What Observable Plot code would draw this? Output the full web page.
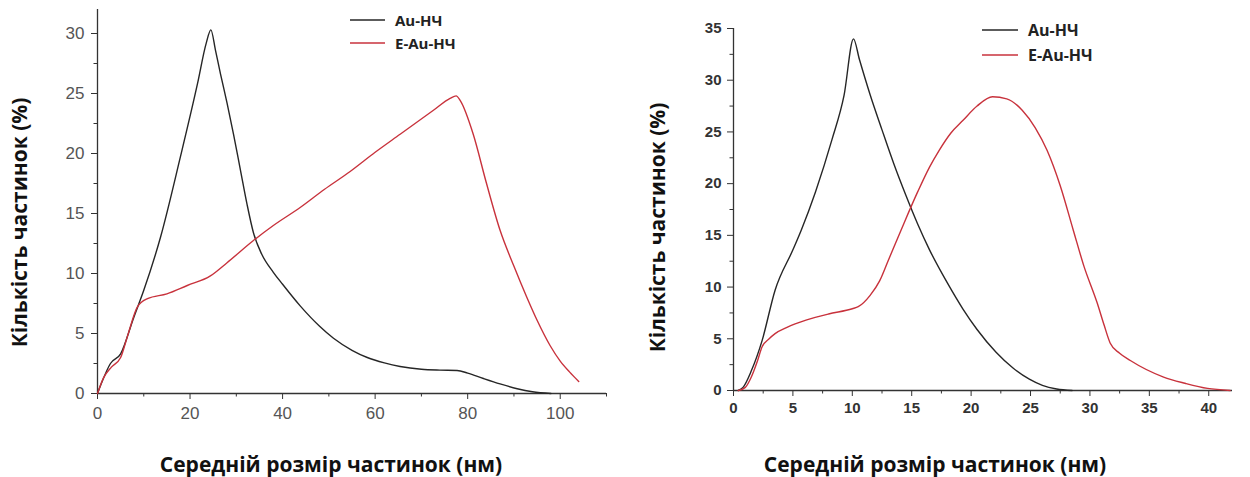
<!DOCTYPE html>
<html>
<head>
<meta charset="utf-8">
<script src="https://cdn.jsdelivr.net/npm/d3@7"></script>
<script src="https://cdn.jsdelivr.net/npm/@observablehq/plot@0.6"></script>
<style>
  body { margin: 0; background: #fff; }
  #wrap { display: flex; width: 1250px; height: 477px; }
  .panel { position: relative; }
  .legend { position: absolute; font-family: "Open Sans", sans-serif; font-weight: 700; color: #222; }
  .legend .row { display: flex; align-items: center; position: absolute; white-space: nowrap; }
</style>
</head>
<body>
<div id="wrap"></div>
<script>
// ---------- data ----------
const seriesNames = ["Au-НЧ", "E-Au-НЧ"];
const xLabel = "Середній розмір частинок (нм)";
const yLabel = "Кількість частинок (%)";

// Left panel
const leftAuX = [0, 1, 2.8, 5, 7.8, 10, 13.6, 17.9, 21.6, 23.5, 24.5, 25.5, 26.6, 28, 29.4, 30.9, 32.3, 33.7, 35.5, 38, 40, 43.8, 48, 51, 55, 58.3, 62, 65.4, 70, 74, 77.7, 80, 83.4, 87, 90.7, 94, 98];
const leftAuY = [0, 1.0, 2.5, 3.3, 6.3, 8.6, 13, 19.7, 25.8, 29.2, 30.3, 28.6, 26.6, 24.2, 21.6, 18.6, 15.8, 13.4, 11.6, 10.1, 9.1, 7.3, 5.6, 4.6, 3.6, 3.0, 2.55, 2.25, 2.02, 1.95, 1.92, 1.7, 1.25, 0.8, 0.4, 0.15, 0];
const leftEAuX = [0, 1.3, 3, 5, 6.5, 8.6, 10.8, 15, 19.4, 24.4, 28, 33.7, 38, 43.8, 49, 54.6, 60, 65.4, 72.6, 76.2, 77.5, 78.4, 81.2, 84, 87, 90, 92.8, 95, 97.8, 100, 102, 104];
const leftEAuY = [0, 1.3, 2.2, 3.0, 4.8, 7.2, 7.9, 8.3, 9.0, 9.8, 10.9, 12.75, 14.0, 15.5, 17.0, 18.5, 20.1, 21.6, 23.6, 24.6, 24.8, 24.4, 21.6, 17.6, 13.6, 10.6, 8.0, 6.1, 4.0, 2.7, 1.8, 1.0];
const leftXTicks = [0, 20, 40, 60, 80, 100];
const leftXMinor = [10, 30, 50, 70, 90, 110];
const leftYTicks = [0, 5, 10, 15, 20, 25, 30];
const leftYMinor = [2.5, 7.5, 12.5, 17.5, 22.5, 27.5];

// Right panel
const rightAuX = [0.4, 0.8, 1.5, 2.4, 3.5, 5, 5.7, 6.9, 8.3, 9.3, 10.1, 10.6, 11.5, 12.5, 13.5, 14.5, 15.5, 16.5, 18, 19.3, 20.5, 22.1, 23.5, 24.9, 26, 27.2, 28.5];
const rightAuY = [0, 0.3, 1.9, 4.8, 9.7, 13.6, 15.5, 19.2, 24.3, 28.5, 34.0, 32, 28.6, 25.2, 21.9, 18.9, 16.1, 13.6, 10.4, 7.9, 5.9, 3.7, 2.2, 1.1, 0.5, 0.15, 0];
const rightEAuX = [0.4, 1, 1.5, 2, 2.4, 3, 3.5, 4.5, 6.1, 8, 10, 10.5, 11.5, 12.3, 13, 14.1, 15.5, 16.5, 17.3, 18.3, 19.3, 20.5, 21.8, 23, 24.3, 25.4, 26.4, 27.5, 28.6, 29.5, 30.6, 31.2, 31.7, 32.5, 33.4, 36.2, 38, 39.9, 41.8];
const rightEAuY = [0, 0.3, 1.3, 2.8, 4.2, 5.0, 5.5, 6.1, 6.8, 7.4, 7.9, 8.1, 9.2, 10.6, 12.5, 15.5, 19.2, 21.6, 23.2, 24.9, 26.1, 27.5, 28.4, 28.2, 27.1, 25.4, 23.2, 19.8, 15.5, 12, 8.5, 6.3, 4.6, 3.6, 2.9, 1.3, 0.7, 0.2, 0];
const rightXTicks = [0, 5, 10, 15, 20, 25, 30, 35, 40];
const rightXMinor = [2.5, 7.5, 12.5, 17.5, 22.5, 27.5, 32.5, 37.5];
const rightYTicks = [0, 5, 10, 15, 20, 25, 30, 35];
const rightYMinor = [2.5, 7.5, 12.5, 17.5, 22.5, 27.5, 32.5];

const colors = ["#262626", "#c8323c"];

// ---------- helpers ----------
function rows(xs, ys, s) { return xs.map((x, i) => ({x, y: ys[i], s})); }

function panel(cfg) {
  const data = [...rows(cfg.auX, cfg.auY, seriesNames[0]), ...rows(cfg.eX, cfg.eY, seriesNames[1])];
  const tickFont = cfg.tickFont;
  return Plot.plot({
    width: cfg.width, height: 477,
    marginLeft: cfg.ml, marginRight: cfg.mr, marginTop: cfg.mt, marginBottom: cfg.mb,
    x: {domain: cfg.xDomain},
    y: {domain: cfg.yDomain},
    color: {domain: seriesNames, range: colors},
    style: {fontFamily: tickFont.family, fontSize: tickFont.size + "px", background: "#fff", overflow: "visible"},
    marks: [
      Plot.ruleY([0], {stroke: "#333", strokeWidth: 1.3}),
      Plot.ruleX([0], {stroke: "#333", strokeWidth: 1.3}),
      Plot.axisX({ticks: cfg.xTicks, tickSize: 6, tickPadding: tickFont.xPad, label: null, stroke: "#333", fill: tickFont.color, fontWeight: tickFont.weight, fontSize: tickFont.size}),
      Plot.axisX({ticks: cfg.xMinor, tickSize: 3.5, tickFormat: () => "", label: null, stroke: "#333"}),
      Plot.axisY({ticks: cfg.yTicks, tickSize: 6, tickPadding: tickFont.yPad, label: null, stroke: "#333", fill: tickFont.color, fontWeight: tickFont.weight, fontSize: tickFont.size}),
      Plot.axisY({ticks: cfg.yMinor, tickSize: 3.5, tickFormat: () => "", label: null, stroke: "#333"}),
      Plot.line(data, {x: "x", y: "y", z: "s", stroke: "s", curve: "monotone-x", strokeWidth: 1.4}),
      Plot.text([xLabel], {frameAnchor: "bottom", lineAnchor: "middle", dy: cfg.xlDy, dx: cfg.xlDx, fontFamily: "Open Sans", fontWeight: 700, fontSize: 21, fill: "#111"}),
      Plot.text([yLabel], {frameAnchor: "left", rotate: -90, lineAnchor: "middle", textAnchor: "middle", dx: cfg.ylDx, dy: cfg.ylDy, fontFamily: "Open Sans", fontWeight: 700, fontSize: 21, fill: "#111"})
    ]
  });
}

function legend(el, cfg) {
  const lg = document.createElement("div");
  lg.className = "legend";
  lg.style.left = cfg.left + "px"; lg.style.top = "0px";
  seriesNames.forEach((name, i) => {
    const row = document.createElement("div");
    row.className = "row";
    row.style.top = (cfg.top + i * cfg.gap) + "px";
    row.style.left = "0px";
    row.style.transform = "translateY(-50%)";
    const svg = document.createElementNS("http://www.w3.org/2000/svg", "svg");
    svg.setAttribute("width", cfg.sw); svg.setAttribute("height", 6);
    svg.style.marginRight = cfg.pad + "px";
    const ln = document.createElementNS("http://www.w3.org/2000/svg", "line");
    ln.setAttribute("x1", 0); ln.setAttribute("x2", cfg.sw);
    ln.setAttribute("y1", 3); ln.setAttribute("y2", 3);
    ln.setAttribute("stroke", colors[i]); ln.setAttribute("stroke-width", 1.6);
    svg.appendChild(ln);
    const tx = document.createElement("span");
    tx.textContent = name;
    tx.style.fontSize = cfg.fs + "px";
    row.appendChild(svg); row.appendChild(tx);
    lg.appendChild(row);
  });
  el.appendChild(lg);
}

const wrap = document.getElementById("wrap");

const p1 = document.createElement("div"); p1.className = "panel"; p1.style.width = "615px";
p1.appendChild(panel({
  width: 615, ml: 97, mr: 9, mt: 9, mb: 84,
  xDomain: [0, 110], yDomain: [0, 32],
  auX: leftAuX, auY: leftAuY, eX: leftEAuX, eY: leftEAuY,
  xTicks: leftXTicks, xMinor: leftXMinor, yTicks: leftYTicks, yMinor: leftYMinor,
  tickFont: {family: "Liberation Sans, Arial, sans-serif", size: 17, weight: 400, color: "#555", xPad: 7, yPad: 7},
  xlDy: 72, xlDx: -21, ylDx: -77, ylDy: 21
}));
legend(p1, {left: 350, top: 20, gap: 23, sw: 35, pad: 10, fs: 15});
wrap.appendChild(p1);

const p2 = document.createElement("div"); p2.className = "panel"; p2.style.width = "635px";
p2.appendChild(panel({
  width: 635, ml: 118, mr: 18, mt: 28, mb: 87,
  xDomain: [0, 42], yDomain: [0, 35],
  auX: rightAuX, auY: rightAuY, eX: rightEAuX, eY: rightEAuY,
  xTicks: rightXTicks, xMinor: rightXMinor, yTicks: rightYTicks, yMinor: rightYMinor,
  tickFont: {family: "Liberation Sans, Arial, sans-serif", size: 15, weight: 700, color: "#333", xPad: 6, yPad: 6},
  xlDy: 75, xlDx: -48, ylDx: -75, ylDy: 18
}));
legend(p2, {left: 367, top: 30, gap: 25, sw: 36, pad: 10, fs: 16});
wrap.appendChild(p2);
</script>
</body>
</html>
